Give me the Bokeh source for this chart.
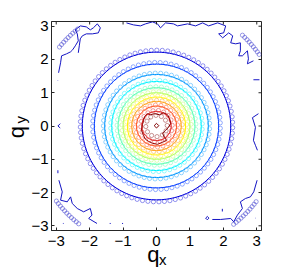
import numpy as np
from bokeh.plotting import figure
from bokeh.models import Range1d, FixedTicker, LinearAxis, ColumnDataSource
from bokeh.embed import file_html
from bokeh.resources import INLINE

# ---------------- data ----------------
# contour colours, outer (lowest level) -> inner (highest level)
level_colors = ["#1414c4", "#0000dc", "#003aff", "#0097ff", "#00f4ff", "#51ffae",
                "#aeff51", "#fff400", "#ff9700", "#ff3a00", "#dc0000", "#800000"]
# measured contour radii (solid lines) for the regular levels 1..10
line_radii = [2.22, 1.86, 1.55, 1.34, 1.15, 1.00, 0.87, 0.74, 0.60, 0.44]
# reference (circle-marker) contour radii for levels 0..11
circle_radii = [3.75, 2.28, 1.91, 1.59, 1.37, 1.18, 1.03, 0.90, 0.77, 0.63, 0.47, 0.32]
# visible angular pieces (degrees) of the outermost circle-marker contour
outer_arc_start = [35, 129, 217, 308]
outer_arc_end = [47, 142, 232, 324]

# noisy outermost contour (level 0) pieces
tl_x = [-2.93, -2.87, -2.84, -2.69, -2.57, -2.51, -2.43, -2.34, -2.37, -2.43, -2.28, -2.10,
        -1.98, -1.89, -1.77, -1.68, -1.74, -1.92, -2.10, -2.22, -2.28, -2.31, -2.34]
tl_y = [1.60, 1.90, 2.11, 2.17, 2.23, 2.29, 2.41, 2.56, 2.77, 2.89, 3.01, 2.98,
        2.89, 2.95, 3.07, 2.95, 2.80, 2.77, 2.77, 2.71, 2.62, 2.41, 2.20]
top_x = [-0.90, -0.69, -0.48, -0.33, -0.12, 0.03, 0.12, 0.27, 0.51, 0.63, 0.93, 1.17, 1.38,
         1.56, 1.83, 2.07, 2.01, 1.86, 1.98, 2.16, 2.28, 2.22, 2.37, 2.51, 2.51, 2.46, 2.57,
         2.72, 2.75, 2.72, 2.90]
top_y = [3.10, 3.04, 3.01, 3.07, 3.13, 3.07, 2.95, 3.10, 3.07, 3.01, 3.07, 3.01, 3.10,
         3.01, 3.10, 3.01, 2.80, 2.77, 2.65, 2.80, 2.71, 2.50, 2.47, 2.50, 2.26, 2.11, 2.11,
         2.26, 2.02, 1.87, 1.96]
ru_x = [3.05, 2.87, 2.96, 2.90, 2.96, 3.02]
ru_y = [0.37, 0.25, -0.04, -0.43, -0.58, -0.73]
br_x = [3.01, 2.91, 2.81, 2.66, 2.51, 2.57, 2.42, 2.31, 2.22, 1.92, 1.67]
br_y = [-1.63, -1.98, -2.13, -2.18, -2.28, -2.48, -2.68, -2.88, -2.78, -2.81, -2.81]
bl_x = [-2.92, -2.82, -2.87, -2.67, -2.57, -2.52, -2.37, -2.18, -1.98, -1.93, -2.03, -1.78]
bl_y = [-1.63, -1.98, -2.23, -2.28, -2.13, -2.33, -2.48, -2.58, -2.48, -2.68, -2.78, -2.93]
# small isolated bits of level 0
bit_x = [[2.90, 3.08], [-2.88, -2.95, -2.88], [-2.95, -2.95], [1.52, 1.57, 1.52, 1.47, 1.52],
         [1.97, 1.97], [-2.80, -2.78], [-1.40, -1.37], [-1.03, -1.00], [2.96, 2.97], [-2.96, -2.95]]
bit_y = [[1.39, 1.39], [0.07, 0.00, -0.06], [-1.33, -1.42], [-2.72, -2.77, -2.82, -2.77, -2.72],
         [-2.49, -2.57], [-2.93, -2.93], [-2.93, -2.93], [-2.93, -2.93], [-2.77, -2.77], [1.36, 1.37]]

# central peak contour (level 11)
blob_x = [-0.36, -0.27, -0.18, -0.06, 0.09, 0.21, 0.33, 0.39, 0.42, 0.36, 0.27, 0.18, 0.24,
          0.30, 0.18, 0.03, -0.12, -0.24, -0.33, -0.39, -0.45, -0.42, -0.39, -0.36]
blob_y = [0.28, 0.37, 0.34, 0.37, 0.34, 0.40, 0.34, 0.22, 0.07, -0.04, -0.13, -0.22, -0.34,
          -0.43, -0.49, -0.55, -0.52, -0.46, -0.40, -0.28, -0.13, 0.04, 0.16, 0.28]
peak_x = [[0.00, 0.07, 0.00, -0.07, 0.00], [-0.21, -0.19]]
peak_y = [[0.08, 0.01, -0.06, 0.01, 0.08], [0.21, 0.22]]

tick_values = [-3, -2, -1, 0, 1, 2, 3]
tick_labels = ["\u22123", "\u22122", "\u22121", "0", "1", "2", "3"]
x_label, x_sub = "q", "x"
y_label, y_sub = "q", "y"

# ---------------- figure ----------------
LIM = np.pi
NB = "\u00a0"
W, H = 279, 277
p = figure(width=W, height=H, x_range=Range1d(-LIM, LIM), y_range=Range1d(-LIM, LIM),
           output_backend="svg", toolbar_location=None,
           min_border_left=51, min_border_right=18, min_border_top=21, min_border_bottom=47)
p.grid.visible = False
p.outline_line_color = "#262626"
p.background_fill_color = "white"
p.border_fill_color = "white"

# regular solid contours
theta = np.linspace(0, 2 * np.pi, 181)
xs, ys, cs = [], [], []
for i, r in enumerate(line_radii):
    xs.append(list(r * np.cos(theta)))
    ys.append(list(r * np.sin(theta)))
    cs.append(level_colors[i + 1])
p.multi_line(xs=xs, ys=ys, line_color=cs, line_width=1.0)

# noisy outer level
p.multi_line(xs=[tl_x, top_x, ru_x, br_x, bl_x], ys=[tl_y, top_y, ru_y, br_y, bl_y],
             line_color=level_colors[0], line_width=1.0)
p.multi_line(xs=bit_x, ys=bit_y, line_color=level_colors[0], line_width=1.0)

# central peak
p.line(blob_x, blob_y, line_color=level_colors[-1], line_width=1.0)
p.multi_line(xs=peak_x, ys=peak_y, line_color=level_colors[-1], line_width=1.0)

# circle-marker contours
px_per_unit = 210 / (2 * np.pi)
cx, cy, cc = [], [], []
for i, r in enumerate(circle_radii):
    if i == 0:
        spacing = 3.2
        step = spacing / (r * px_per_unit)
        t = np.concatenate([np.arange(np.radians(a0), np.radians(a1) + 1e-9, step)
                            for a0, a1 in zip(outer_arc_start, outer_arc_end)])
    else:
        spacing = 5.5
        n = int(round(2 * np.pi * r * px_per_unit / spacing))
        t = np.arange(n) * 2 * np.pi / n + 0.05
    cx += list(r * np.cos(t))
    cy += list(r * np.sin(t))
    cc += [level_colors[i]] * len(t)
src = ColumnDataSource(dict(x=cx, y=cy, c=cc))
p.scatter("x", "y", source=src, marker="circle", size=4.2, fill_color=None,
          line_color="c", line_width=0.7, line_alpha=0.6)

# axes
fnt = "Liberation Sans"
ticker = FixedTicker(ticks=tick_values)
overrides = {v: s for v, s in zip(tick_values, tick_labels)}
for ax in [p.xaxis[0], p.yaxis[0]]:
    ax.ticker = ticker
    ax.major_label_overrides = overrides
    ax.axis_line_color = "#262626"
    ax.major_tick_line_color = "#262626"
    ax.major_tick_in = 3
    ax.major_tick_out = 0
    ax.minor_tick_in = 0
    ax.minor_tick_out = 0
    ax.major_label_text_font = fnt
    ax.major_label_text_font_size = "15px"
    ax.major_label_text_color = "black"
    ax.axis_label_text_font = fnt
    ax.axis_label_text_font_style = "normal"
    ax.axis_label_text_color = "black"
p.xaxis[0].major_label_standoff = 5
p.yaxis[0].major_label_standoff = 3

# x label: "q" on the main axis, subscript on an extra (tick-less) axis just below
p.xaxis[0].axis_label = x_label + NB
p.xaxis[0].axis_label_text_font_size = "22px"
p.xaxis[0].axis_label_standoff = -7
xs_ax = LinearAxis(ticker=FixedTicker(ticks=[]), axis_line_color=None, major_tick_out=0,
                   major_tick_in=0, minor_tick_in=0, minor_tick_out=0,
                   axis_label=NB * 3 + x_sub, axis_label_text_font=fnt,
                   axis_label_text_font_size="15px", axis_label_text_font_style="normal",
                   axis_label_text_color="black", axis_label_standoff=-19)
p.add_layout(xs_ax, "below")

# y label: subscript on the main (inner) axis, "q" on an extra axis further left
p.yaxis[0].axis_label = NB * 3 + y_sub
p.yaxis[0].axis_label_text_font_size = "15px"
p.yaxis[0].axis_label_standoff = -1
yq_ax = LinearAxis(ticker=FixedTicker(ticks=[]), axis_line_color=None, major_tick_out=0,
                   major_tick_in=0, minor_tick_in=0, minor_tick_out=0,
                   axis_label=y_label + NB * 2, axis_label_text_font=fnt,
                   axis_label_text_font_size="22px", axis_label_text_font_style="normal",
                   axis_label_text_color="black", axis_label_standoff=-19)
p.add_layout(yq_ax, "left")

# mirrored tick marks on top and right edges
tick_len = 3 / px_per_unit
p.segment(x0=tick_values, y0=[LIM] * 7, x1=tick_values, y1=[LIM - tick_len] * 7,
          line_color="#262626", line_width=1)
p.segment(x0=[LIM] * 7, y0=tick_values, x1=[LIM - tick_len] * 7, y1=tick_values,
          line_color="#262626", line_width=1)

open("out.html", "w").write(file_html(p, INLINE))
